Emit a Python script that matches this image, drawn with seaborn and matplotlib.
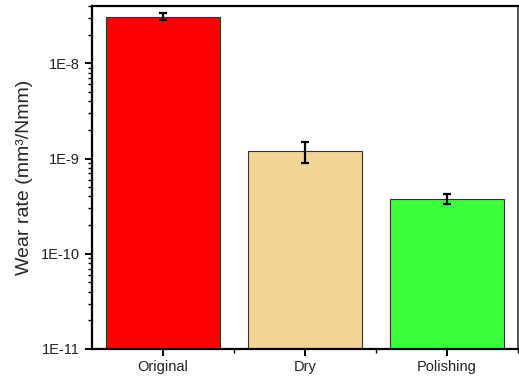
import matplotlib
matplotlib.use("Agg")
import matplotlib.pyplot as plt
import matplotlib.ticker as mticker
import numpy as np
import pandas as pd
import seaborn as sns

categories = ["Original", "Dry", "Polishing"]
wear_rate = [3.1e-8, 1.19e-9, 3.8e-10]
wear_err = [0.25e-8, 0.29e-9, 0.46e-10]
bar_colors = ["#FF0000", "#F0D595", "#3BFF3B"]
ytick_values = [1e-11, 1e-10, 1e-9, 1e-8]
ytick_labels = ["1E-11", "1E-10", "1E-9", "1E-8"]

sns.set_theme(style="ticks")
plt.rcParams["font.family"] = ["Liberation Sans", "DejaVu Sans"]

df = pd.DataFrame({"condition": categories, "rate": wear_rate})

fig = plt.figure(figsize=(5.19, 3.78), dpi=100)
ax = fig.add_axes([92 / 519, 1 - 349 / 378, 426 / 519, 343 / 378])

sns.barplot(data=df, x="condition", y="rate", hue="condition",
            palette=bar_colors, saturation=1, legend=False, width=0.8,
            edgecolor="#333333", linewidth=0.8, ax=ax)

ax.errorbar(np.arange(len(categories)), wear_rate, yerr=wear_err,
            fmt="none", ecolor="black", elinewidth=1.6, capsize=3,
            capthick=1.6, zorder=5)

ax.set_yscale("log")
ax.set_ylim(1e-11, 4e-8)
ax.set_xlim(-0.5, 2.5)
ax.set_yticks(ytick_values)
ax.set_yticklabels(ytick_labels)
ax.yaxis.set_minor_locator(mticker.LogLocator(base=10, subs=np.arange(2, 10)))
ax.yaxis.set_minor_formatter(mticker.NullFormatter())
ax.set_xticks(range(len(categories)))
ax.set_xticklabels(categories)
ax.xaxis.set_minor_locator(mticker.FixedLocator([0.5, 1.5, 2.5]))

ax.set_xlabel("")
ax.set_ylabel("Wear rate (mm³/Nmm)", fontsize=14, labelpad=6)

ax.tick_params(axis="both", which="major", direction="out", length=5,
               width=1.4, labelsize=10.5, color="black", labelcolor="#222222")
ax.tick_params(axis="both", which="minor", direction="out", length=3,
               width=1.0, color="black")
ax.tick_params(axis="x", which="major", pad=3)

for side in ["left", "bottom", "top"]:
    ax.spines[side].set_linewidth(1.6)
    ax.spines[side].set_color("black")
ax.spines["right"].set_linewidth(1.2)
ax.spines["right"].set_color("#333333")

fig.savefig("out.png", dpi=100)
